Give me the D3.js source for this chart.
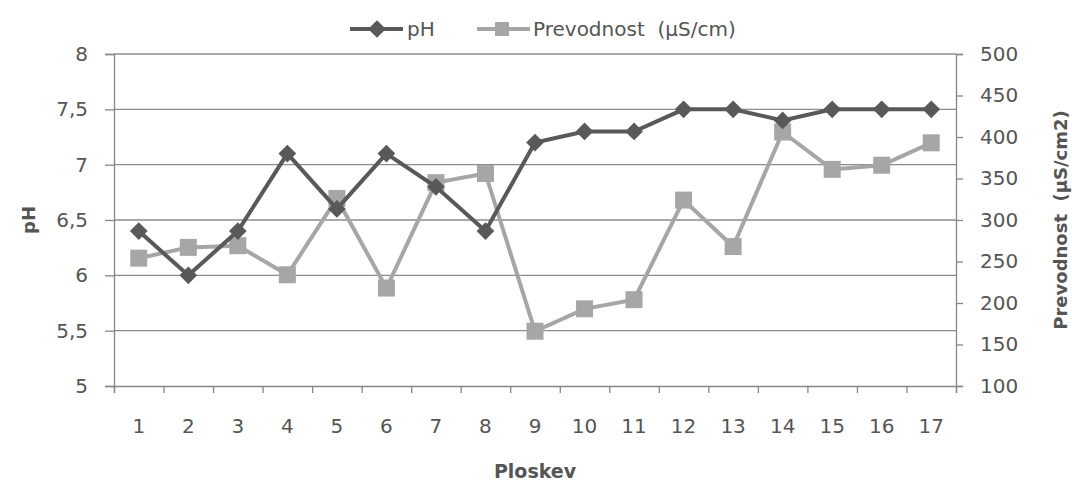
<!DOCTYPE html>
<html>
<head>
<meta charset="utf-8">
<script src="https://cdn.jsdelivr.net/npm/d3@7"></script>
<style>
  body { margin: 0; background: #fff; }
  text { font-family: "DejaVu Sans", sans-serif; fill: #555; white-space: pre; }
</style>
</head>
<body>
<div id="chart"></div>
<script>
const categories = ["1","2","3","4","5","6","7","8","9","10","11","12","13","14","15","16","17"];
const phValues = [6.4, 6.0, 6.4, 7.1, 6.6, 7.1, 6.8, 6.4, 7.2, 7.3, 7.3, 7.5, 7.5, 7.4, 7.5, 7.5, 7.5];
const condValues = [254, 267, 269, 234, 326, 218, 345, 356, 166, 193, 204, 324, 268, 406, 361, 366, 393];
const phTicks = [5, 5.5, 6, 6.5, 7, 7.5, 8];
const condTicks = [100, 150, 200, 250, 300, 350, 400, 450, 500];

const W = 1072, H = 485;
const plot = {left: 114, right: 956, top: 54, bottom: 386};

const svg = d3.select("#chart").append("svg")
    .attr("width", W).attr("height", H);

const x = d3.scaleBand().domain(categories).range([plot.left, plot.right]);
const xEdges = d3.scaleLinear().domain([0, categories.length]).range([plot.left, plot.right]);
const yPh = d3.scaleLinear().domain([5, 8]).range([plot.bottom, plot.top]);
const yCond = d3.scaleLinear().domain([100, 500]).range([plot.bottom, plot.top]);

const fmt = d => String(d).replace(".", ",");

// gridlines
svg.append("g").selectAll("line")
    .data(phTicks.slice(1))
    .enter().append("line")
    .attr("x1", plot.left).attr("x2", plot.right)
    .attr("y1", d => yPh(d)).attr("y2", d => yPh(d))
    .attr("stroke", "#8c8c8c").attr("stroke-width", 1.3);

// left axis
const gL = svg.append("g").attr("transform", `translate(${plot.left},0)`)
    .call(d3.axisLeft(yPh).tickValues(phTicks).tickFormat(fmt).tickSize(9).tickPadding(17));
gL.selectAll("text").style("font-size", "20px");

// right axis
const gR = svg.append("g").attr("transform", `translate(${plot.right},0)`)
    .call(d3.axisRight(yCond).tickValues(condTicks).tickSize(7).tickPadding(17));
gR.selectAll("text").style("font-size", "20px");

// bottom axis
const gB = svg.append("g").attr("transform", `translate(0,${plot.bottom})`)
    .call(d3.axisBottom(xEdges).tickValues(d3.range(0, categories.length + 1)).tickFormat("").tickSize(7));
const gBL = svg.append("g").attr("transform", `translate(0,${plot.bottom})`)
    .call(d3.axisBottom(x).tickSize(0).tickPadding(33));
gBL.select(".domain").remove();
gBL.selectAll("text").style("font-size", "20px");

[gL, gR, gB].forEach(g => {
    g.selectAll(".domain").attr("stroke", "#868686").attr("stroke-width", 1.3);
    g.selectAll(".tick line").attr("stroke", "#868686").attr("stroke-width", 1.3);
});
svg.selectAll(".tick text").attr("fill", "#555");

const cx = (d, i) => x(categories[i]) + x.bandwidth() / 2;

// conductivity line
svg.append("path")
    .datum(condValues)
    .attr("fill", "none")
    .attr("stroke", "#a6a6a6")
    .attr("stroke-width", 4)
    .attr("d", d3.line().x(cx).y(d => yCond(d)));
svg.append("g").selectAll("rect")
    .data(condValues).enter().append("rect")
    .attr("x", (d, i) => cx(d, i) - 8.5)
    .attr("y", d => yCond(d) - 8.5)
    .attr("width", 17).attr("height", 17)
    .attr("fill", "#a6a6a6");

// pH line
svg.append("path")
    .datum(phValues)
    .attr("fill", "none")
    .attr("stroke", "#595959")
    .attr("stroke-width", 4)
    .attr("d", d3.line().x(cx).y(d => yPh(d)));
const diamond = d3.symbol().type(d3.symbolDiamond2).size(200);
svg.append("g").selectAll("path")
    .data(phValues).enter().append("path")
    .attr("d", diamond)
    .attr("transform", (d, i) => `translate(${cx(d, i)},${yPh(d)})`)
    .attr("fill", "#595959");

// axis titles
svg.append("text")
    .attr("x", (plot.left + plot.right) / 2).attr("y", 478)
    .attr("text-anchor", "middle")
    .style("font-size", "19px").style("font-weight", "bold")
    .text("Ploskev");
svg.append("text")
    .attr("transform", `translate(35,${(plot.top + plot.bottom) / 2}) rotate(-90)`)
    .attr("text-anchor", "middle")
    .style("font-size", "18px").style("font-weight", "bold")
    .text("pH");
svg.append("text")
    .attr("transform", `translate(1061,${(plot.top + plot.bottom) / 2}) rotate(-90)`)
    .attr("text-anchor", "middle")
    .attr("dy", "0.35em")
    .style("font-size", "18px").style("font-weight", "bold")
    .text("Prevodnost  (µS/cm2)");

// legend
const legY = 29;
const leg = svg.append("g");
leg.append("line").attr("x1", 350).attr("x2", 403).attr("y1", legY).attr("y2", legY)
    .attr("stroke", "#595959").attr("stroke-width", 4);
leg.append("path").attr("d", diamond).attr("transform", `translate(377,${legY})`).attr("fill", "#595959");
leg.append("text").attr("x", 407).attr("y", legY).attr("dy", "0.35em")
    .style("font-size", "20px").text("pH");
leg.append("line").attr("x1", 477).attr("x2", 530).attr("y1", legY).attr("y2", legY)
    .attr("stroke", "#a6a6a6").attr("stroke-width", 4);
leg.append("rect").attr("x", 495).attr("y", legY - 7).attr("width", 14).attr("height", 14).attr("fill", "#a6a6a6");
leg.append("text").attr("x", 533).attr("y", legY).attr("dy", "0.35em")
    .style("font-size", "20px").text("Prevodnost  (µS/cm)");
</script>
</body>
</html>
